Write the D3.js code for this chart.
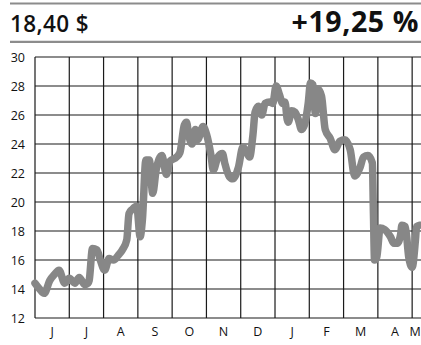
<!DOCTYPE html>
<html>
<head>
<meta charset="utf-8">
<script src="https://cdn.jsdelivr.net/npm/d3@7"></script>
<style>
  html, body { margin: 0; padding: 0; background: #fff; }
  svg { display: block; }
</style>
</head>
<body>
<svg id="chart" width="421" height="345"></svg>
<script>
// Closing prices, one year of trading (June to early May)
const dates = [
  "2018-06-01","2018-06-05","2018-06-09","2018-06-14","2018-06-18","2018-06-22","2018-06-27",
  "2018-07-01","2018-07-06","2018-07-10","2018-07-15","2018-07-18","2018-07-19","2018-07-22","2018-07-26","2018-07-29",
  "2018-08-02","2018-08-06","2018-08-10","2018-08-14","2018-08-18","2018-08-22","2018-08-24","2018-08-27","2018-08-31",
  "2018-09-03","2018-09-05","2018-09-08","2018-09-11","2018-09-14","2018-09-17","2018-09-22","2018-09-26","2018-09-29",
  "2018-10-05","2018-10-08","2018-10-12","2018-10-14","2018-10-16","2018-10-19","2018-10-22","2018-10-24","2018-10-29",
  "2018-11-01","2018-11-05","2018-11-07","2018-11-11","2018-11-15","2018-11-17","2018-11-21","2018-11-24","2018-11-29",
  "2018-12-03","2018-12-06","2018-12-09","2018-12-12","2018-12-14","2018-12-17","2018-12-20","2018-12-23","2018-12-27","2018-12-30",
  "2019-01-02","2019-01-05","2019-01-08","2019-01-10","2019-01-12","2019-01-13","2019-01-16","2019-01-19","2019-01-22","2019-01-25","2019-01-28","2019-01-31",
  "2019-02-02","2019-02-04","2019-02-06","2019-02-08","2019-02-11","2019-02-14","2019-02-18","2019-02-22","2019-02-26",
  "2019-03-02","2019-03-07","2019-03-11","2019-03-16","2019-03-19","2019-03-23","2019-03-27","2019-03-28","2019-03-29","2019-03-31",
  "2019-04-03","2019-04-07","2019-04-12","2019-04-15","2019-04-18","2019-04-21","2019-04-22","2019-04-25","2019-04-28",
  "2019-05-01","2019-05-04","2019-05-05","2019-05-08"
];
const prices = [
  14.4,14.0,13.7,14.6,15.0,15.3,14.4,
  14.75,14.4,14.8,14.3,14.4,14.6,16.8,16.7,16.0,
  15.3,16.1,16.0,16.3,16.7,17.4,19.2,19.5,19.7,
  17.6,18.8,22.9,22.9,20.6,22.2,23.2,21.9,22.8,
  23.1,23.4,25.3,25.5,24.6,24.0,25.0,24.3,25.2,
  24.7,23.2,22.2,23.1,23.35,22.7,21.75,21.6,22.4,
  23.8,23.5,23.1,24.6,26.2,26.6,26.0,26.8,26.9,26.8,
  28.0,27.4,26.8,26.9,25.7,25.5,26.3,26.2,25.7,25.0,25.4,26.8,
  28.2,28.1,26.1,27.8,27.3,25.0,24.4,23.6,24.2,
  24.3,23.6,21.8,22.4,23.1,23.2,22.7,19.2,16.0,16.2,
  18.2,18.1,17.6,17.15,17.15,17.8,18.4,18.3,16.2,
  15.5,17.4,18.3,18.4
];
const monthLabels = ["J","J","A","S","O","N","D","J","F","M","A","M"];
const yTicks = [12,14,16,18,20,22,24,26,28,30];
const priceText = "18,40 $";
const changeText = "+19,25 %";
const axisStart = "2018-06-01";
const axisEnd = "2019-05-09";

// Position of a date in months from the axis start (each month gets equal width)
const parse = d3.timeParse("%Y-%m-%d");
const start = parse(axisStart);
function monthPos(str) {
  const d = parse(str);
  const m0 = d3.timeMonth.floor(d);
  const m1 = d3.timeMonth.offset(m0, 1);
  const whole = (d.getFullYear() - start.getFullYear()) * 12 + d.getMonth() - start.getMonth();
  return whole + (d - m0) / (m1 - m0);
}

const svg = d3.select("#chart");
const W = 421;
const margin = { left: 35, top: 57, bottom: 318 };

const x = d3.scaleLinear().domain([0, monthPos(axisEnd)]).range([margin.left, W]);
const y = d3.scaleLinear().domain([12, 30]).range([margin.bottom, margin.top]);

// Header rules and figures
svg.append("line").attr("x1", 10).attr("x2", W).attr("y1", 3.5).attr("y2", 3.5)
  .attr("stroke", "#8c8c8c").attr("stroke-width", 2.2);
svg.append("line").attr("x1", 10).attr("x2", W).attr("y1", 41.8).attr("y2", 41.8)
  .attr("stroke", "#8c8c8c").attr("stroke-width", 2.2);

svg.append("text").attr("x", 10).attr("y", 32)
  .attr("font-family", "'Open Sans', sans-serif").attr("font-weight", 600)
  .attr("font-size", 22.5).attr("letter-spacing", 0.4).attr("fill", "#111").text(priceText);
svg.append("text").attr("x", 419).attr("y", 32).attr("text-anchor", "end")
  .attr("font-family", "'Open Sans', sans-serif").attr("font-weight", 700)
  .attr("font-size", 28.5).attr("letter-spacing", 0.6).attr("fill", "#111").text(changeText);

// Grid: horizontal lines at each y tick
const grid = svg.append("g").attr("stroke", "#1a1a1a").attr("stroke-width", 1.2);
grid.selectAll("line.h").data(yTicks).join("line").attr("class", "h")
  .attr("x1", margin.left).attr("x2", W)
  .attr("y1", d => y(d)).attr("y2", d => y(d));

// Vertical lines at each month boundary
const monthIdx = d3.range(0, monthLabels.length);
grid.selectAll("line.v").data(monthIdx).join("line").attr("class", "v")
  .attr("x1", d => x(d)).attr("x2", d => x(d))
  .attr("y1", margin.top).attr("y2", margin.bottom);

// Y labels
const axisFont = "'Open Sans', sans-serif";
svg.append("g").selectAll("text").data(yTicks).join("text")
  .attr("x", 25).attr("y", d => y(d)).attr("dy", "0.36em")
  .attr("text-anchor", "end").attr("font-family", axisFont)
  .attr("font-size", 12.5).attr("fill", "#111").text(d => d);

// Month labels centred in each month
svg.append("g").selectAll("text").data(monthIdx).join("text")
  .attr("x", d => Math.min(x(d + 0.5), 415)).attr("y", 336)
  .attr("text-anchor", "middle").attr("font-family", axisFont)
  .attr("font-size", 12.5).attr("fill", "#111").text(d => monthLabels[d]);

// Price line
const series = dates.map((d, i) => ({ t: monthPos(d), v: prices[i] }));
const line = d3.line().x(d => x(d.t)).y(d => y(d.v)).curve(d3.curveMonotoneX);
svg.append("path").datum(series)
  .attr("d", line).attr("fill", "none")
  .attr("stroke", "#878787").attr("stroke-width", 7.5)
  .attr("stroke-linejoin", "round").attr("stroke-linecap", "round");
</script>
</body>
</html>
